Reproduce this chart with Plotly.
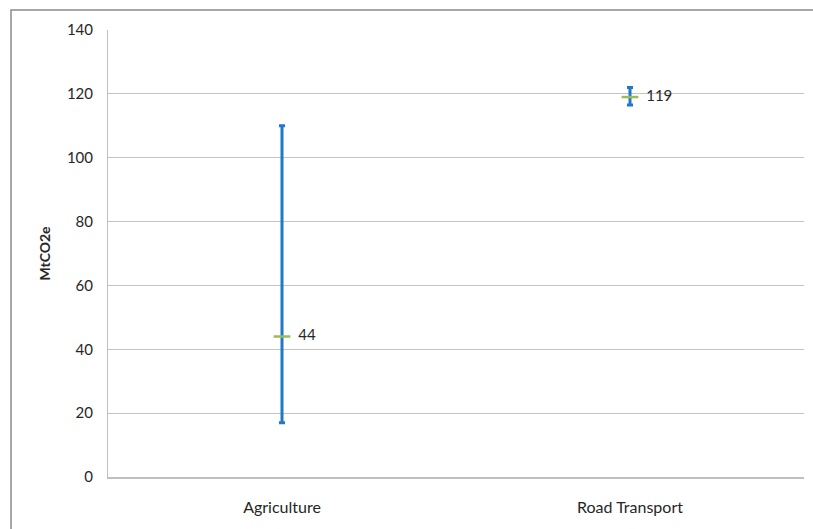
import plotly.graph_objects as go

categories = ["Agriculture", "Road Transport"]
central = [44, 119]
upper = [110, 122]
lower = [17, 116.5]
y_ticks = [0, 20, 40, 60, 80, 100, 120, 140]

err_plus = [u - c for u, c in zip(upper, central)]
err_minus = [c - l for c, l in zip(central, lower)]

FONT = "Lato, Open Sans, sans-serif"

fig = go.Figure()
fig.add_trace(go.Scatter(
    x=categories, y=central, mode="markers+text",
    text=["  " + str(v) for v in central], textposition="middle right",
    textfont=dict(family=FONT, size=15, color="#262626"),
    marker=dict(symbol="line-ew", size=12, line=dict(color="#9BBB59", width=2.5), color="#9BBB59"),
    error_y=dict(type="data", symmetric=False, array=err_plus, arrayminus=err_minus,
                 color="#1f78c8", thickness=3, width=3),
    showlegend=False, cliponaxis=False,
))

W, H = 813, 529
ml, mr, mt, mb = 108, 9, 30, 52
pw = W - ml - mr
ph = H - mt - mb
fig.add_shape(type="rect", xref="paper", yref="paper",
              x0=(11 - ml) / pw, x1=(W + 5 - ml) / pw,
              y0=-(mb + 5) / ph, y1=(ph + mt - 10) / ph,
              line=dict(color="#8a8a8a", width=1.5), fillcolor="rgba(0,0,0,0)", layer="below")

fig.update_layout(
    width=W, height=H, margin=dict(l=ml, r=mr, t=mt, b=mb, autoexpand=False),
    plot_bgcolor="white", paper_bgcolor="white",
    font=dict(family=FONT, size=15, color="#262626"),
    xaxis=dict(type="category", range=[-0.5, 1.5], showgrid=False, showline=True, automargin=False,
               linecolor="#bfbfbf", linewidth=1.5, ticks="", ticklabelstandoff=15,
               tickfont=dict(size=16)),
    yaxis=dict(range=[0, 140], tickvals=y_ticks, showgrid=True, gridcolor="#c4c4c4", gridwidth=1,
               showline=True, linecolor="#bfbfbf", linewidth=1, ticks="", ticklabelstandoff=11,
               zeroline=False, tickfont=dict(size=15), automargin=False,
               title=dict(text="<b>MtCO2e</b>", standoff=12, font=dict(size=14))),
)
fig.write_html("out.html", config={"displayModeBar": False},
               post_script="document.body.style.margin='0px';document.body.style.overflow='hidden';")
